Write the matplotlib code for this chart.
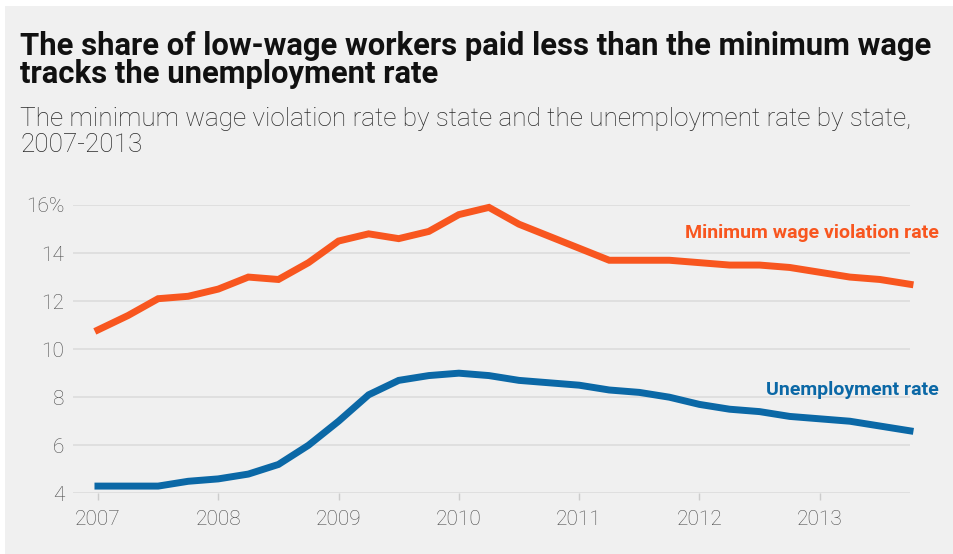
# Tasa de violacion del salario minimo frente a la tasa de desempleo, 2007-2013
import matplotlib.pyplot as plt
from matplotlib.patches import Rectangle

# datos trimestrales
anios = [2007, 2008, 2009, 2010, 2011, 2012, 2013]
trimestres = [a + q / 4 for a in anios for q in range(4)]

violacion = [10.8, 11.4, 12.1, 12.2, 12.5, 13.0, 12.9, 13.6,
             14.5, 14.8, 14.6, 14.9, 15.6, 15.9, 15.2, 14.7,
             14.2, 13.7, 13.7, 13.7, 13.6, 13.5, 13.5, 13.4,
             13.2, 13.0, 12.9, 12.7]

desempleo = [4.3, 4.3, 4.3, 4.5, 4.6, 4.8, 5.2, 6.0,
             7.0, 8.1, 8.7, 8.9, 9.0, 8.9, 8.7, 8.6,
             8.5, 8.3, 8.2, 8.0, 7.7, 7.5, 7.4, 7.2,
             7.1, 7.0, 6.8, 6.6]

y_ticks = [4, 6, 8, 10, 12, 14, 16]
y_labels = ["4", "6", "8", "10", "12", "14", "16%"]

naranja = "#f8561f"
azul = "#0b68a6"
fondo = "#f0f0f0"
gris = "#4a4a4a"

plt.rcParams["font.family"] = ["Roboto", "DejaVu Sans"]

fig = plt.figure(figsize=(9.54, 5.54), dpi=100, facecolor="white")

# panel gris de fondo
fig.patches.append(
    Rectangle((5 / 954, 0), 1, 548 / 554,
              transform=fig.transFigure, facecolor=fondo,
              edgecolor="none", zorder=-5)
)

# titulo (dos lineas)
fig.text(20 / 954, 1 - 55 / 554,
         "The share of low-wage workers paid less than the minimum wage",
         fontsize=22.3, fontweight="bold", color="#111111",
         va="baseline", ha="left")
fig.text(20 / 954, 1 - 83 / 554,
         "tracks the unemployment rate",
         fontsize=22.3, fontweight="bold", color="#111111",
         va="baseline", ha="left")

# subtitulo
fig.text(20 / 954, 1 - 126 / 554,
         "The minimum wage violation rate by state and the unemployment rate by state,",
         fontsize=18.8, fontweight="light", color="#2a2a2a",
         va="baseline", ha="left")
fig.text(20 / 954, 1 - 152 / 554,
         "2007-2013",
         fontsize=18.8, fontweight="light", color="#2a2a2a",
         va="baseline", ha="left")

ax = fig.add_axes([72.7 / 954, 60.7 / 554, 837.3 / 954, 288.3 / 554])
ax.set_zorder(2)
ax.set_facecolor("none")

# lineas
ax.plot(trimestres, violacion, color=naranja, lw=5, clip_on=False,
        solid_joinstyle="miter", zorder=3)
ax.plot(trimestres, desempleo, color=azul, lw=5, clip_on=False,
        solid_joinstyle="miter", zorder=3)

ax.set_xlim(2006.79, 2013.75)
ax.set_ylim(4, 16)

# ejes y rejilla
ax.set_yticks(y_ticks)
ax.set_yticklabels(y_labels)
ax.set_xticks(anios)
ax.set_xticklabels([str(a) for a in anios])
ax.grid(axis="y", color="#dcdcdc", lw=1.2)
ax.set_axisbelow(True)

for lado in ["top", "right", "left", "bottom"]:
    ax.spines[lado].set_visible(False)

ax.tick_params(axis="y", length=0, pad=6, labelsize=15, labelcolor=gris)
ax.tick_params(axis="x", length=5, width=1, color="#cccccc", pad=7,
               labelsize=15, labelcolor=gris)
for t in ax.get_xticklabels() + ax.get_yticklabels():
    t.set_fontweight("light")

# etiquetas de las series
ax.text(939 / 954, 1 - 233 / 554, "Minimum wage violation rate",
        transform=fig.transFigure, color=naranja, fontsize=14,
        fontweight="bold", ha="right", va="center")
ax.text(939 / 954, 1 - 390 / 554, "Unemployment rate",
        transform=fig.transFigure, color=azul, fontsize=14,
        fontweight="bold", ha="right", va="center")

plt.savefig("out.png", dpi=100, facecolor="white")
